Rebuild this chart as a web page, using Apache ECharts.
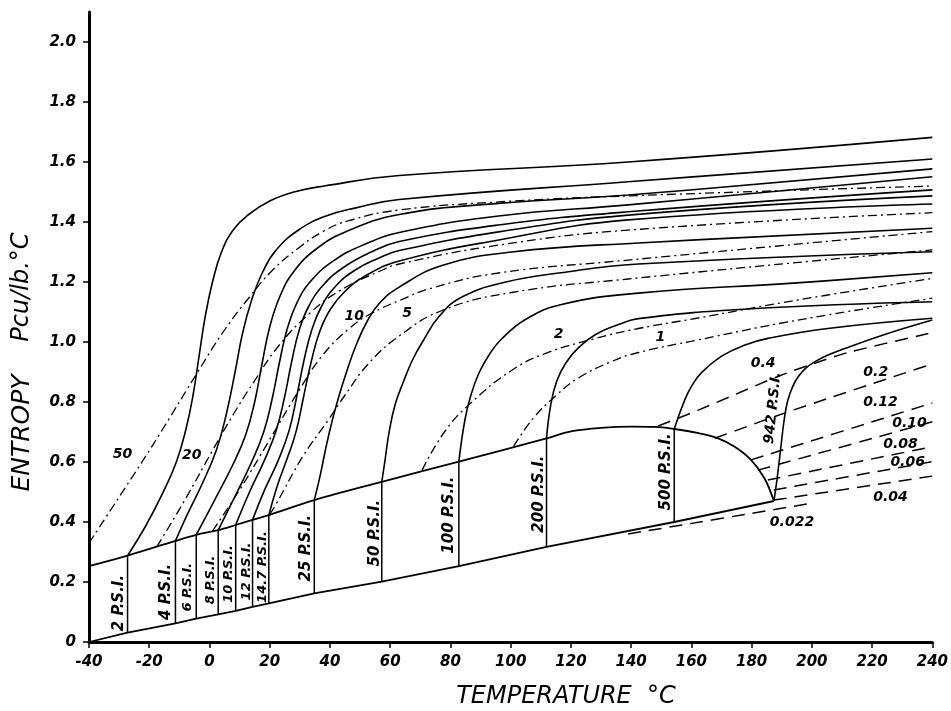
<!DOCTYPE html>
<html><head><meta charset="utf-8">
<script src="https://cdn.jsdelivr.net/npm/echarts@6/dist/echarts.min.js"></script>
<style>html,body{margin:0;padding:0;background:#fff}#c{width:951px;height:711px}</style>
</head><body><div id="c"></div>
<script>
// ---------- axis ticks ----------
const entropyTicks = [0,0.2,0.4,0.6,0.8,1.0,1.2,1.4,1.6,1.8,2.0];

// ---------- saturation boundaries ----------
const satLower = [[-40,0],[-27.2,0.031],[-11.3,0.062],[-4.4,0.078],[2.9,0.092],[8.7,0.104],[14.3,0.117],[19.7,0.129],[34.8,0.162],[57.2,0.201],[82.8,0.253],[111.9,0.317],[154.3,0.40],[187.4,0.47]];
const satUpper = [[-40,0.253],[-27.2,0.288],[-11.3,0.337],[-4.4,0.357],[2.9,0.373],[8.7,0.39],[14.3,0.407],[19.7,0.423],[34.8,0.473],[57.2,0.534],[82.8,0.601],[111.9,0.679],[120,0.702],[130,0.714],[140,0.718],[148,0.717],[154.3,0.71],[162,0.697],[168.9,0.679],[174.5,0.65],[179.8,0.607],[184.3,0.545],[187.4,0.47]];

// ---------- wet-region pressure lines ----------
const wetT    = [-27.2,-11.3,-4.4,2.9,8.7,14.3,19.7,34.8,57.2,82.8,111.9,154.3];
const wetLow  = [0.031,0.062,0.078,0.092,0.104,0.117,0.129,0.162,0.201,0.253,0.317,0.40];
const wetHigh = [0.288,0.337,0.357,0.373,0.39,0.407,0.423,0.473,0.534,0.601,0.679,0.71];
const pressureLabelsWide = ['2 P.S.I.','4 P.S.I.','25 P.S.I.','50 P.S.I.','100 P.S.I.','200 P.S.I.','500 P.S.I.'];
const pressureLabelsWideT = [-30.1,-14.5,32.2,55.0,79.5,109.3,151.7];
const pressureLabelsWideS = [0.13,0.167,0.313,0.363,0.423,0.493,0.567];
const pressureLabelsNarrow = ['6 P.S.I.','8 P.S.I.','10 P.S.I.','12 P.S.I.','14.7 P.S.I.'];
const pressureLabelsNarrowT = [-7.4,0.3,6.3,12.2,17.5];
const pressureLabelsNarrowS = [0.183,0.207,0.227,0.235,0.25];

// ---------- superheated isobars (solid) ----------
const isobar2 = [[-27.2,0.288],[-21,0.39],[-15.5,0.497],[-11,0.6],[-7.8,0.71],[-5.5,0.82],[-3.5,0.95],[-1.5,1.08],[1,1.2],[4,1.3],[8,1.375],[13,1.425],[20,1.47],[28,1.5],[38,1.52],[63,1.555],[139,1.60],[240,1.682]];
const isobar4 = [[-11.3,0.337],[-7.7,0.418],[-2.3,0.53],[2.3,0.64],[5.6,0.76],[8.5,0.9],[11,1.03],[14,1.14],[17.5,1.23],[22,1.305],[29.8,1.375],[38.7,1.42],[48.6,1.447],[63,1.475],[139,1.534],[240,1.61]];
const isobar6 = [[-4.4,0.357],[1.7,0.473],[7.7,0.59],[12,0.69],[15,0.8],[17.5,0.93],[20,1.05],[23.5,1.155],[28,1.235],[34.8,1.305],[44.7,1.365],[63,1.425],[96,1.462],[139,1.49],[240,1.577]];
const isobar8 = [[2.9,0.373],[8.7,0.49],[14,0.60],[18,0.70],[20.8,0.81],[23.2,0.93],[25.7,1.04],[29,1.13],[33.8,1.205],[41.4,1.272],[51.4,1.325],[63,1.365],[96,1.42],[139,1.457],[240,1.551]];
const isobar10 = [[8.7,0.39],[13.3,0.50],[18.3,0.607],[22.2,0.707],[24.9,0.815],[27.3,0.935],[29.8,1.04],[33,1.12],[37.8,1.19],[44.7,1.25],[53.7,1.30],[63,1.335],[96,1.39],[139,1.434],[240,1.507]];
const isobar12 = [[14.3,0.407],[18.3,0.507],[22.9,0.607],[26.5,0.707],[29,0.82],[31.3,0.935],[33.8,1.035],[37,1.115],[41.8,1.185],[48.4,1.24],[56.3,1.28],[63,1.305],[96,1.367],[139,1.423],[240,1.487]];
const isobar14_7 = [[19.7,0.423],[22.6,0.523],[26.2,0.623],[28.9,0.707],[31.3,0.82],[33.8,0.935],[36.6,1.035],[40.2,1.11],[45.1,1.17],[51.7,1.22],[63,1.27],[96,1.34],[139,1.407],[240,1.46]];
const isobar25 = [[34.8,0.473],[36.8,0.557],[38.7,0.65],[40.8,0.74],[43,0.82],[45.5,0.9],[48.7,0.99],[52.4,1.07],[56.5,1.13],[63,1.183],[77.2,1.255],[100.3,1.30],[142.4,1.33],[240,1.379]];
const isobar50 = [[57.2,0.534],[58.3,0.607],[59.6,0.697],[61.6,0.79],[64.3,0.865],[67.4,0.94],[71,1.005],[76.2,1.085],[83.8,1.15],[98.4,1.2],[116,1.23],[142.4,1.26],[240,1.301]];
const isobar100 = [[82.8,0.601],[84.8,0.74],[86.8,0.823],[89.4,0.895],[92.7,0.955],[96.5,1.005],[104.9,1.075],[116.9,1.125],[142.4,1.163],[195,1.197],[240,1.231]];
const isobar200 = [[111.9,0.679],[113.3,0.79],[115.3,0.87],[118.3,0.93],[122.6,0.982],[128.2,1.025],[135.8,1.058],[142.4,1.078],[178.8,1.11],[240,1.134]];
const isobar500 = [[154.3,0.71],[157.8,0.807],[160.3,0.857],[163.3,0.897],[169.9,0.952],[177.8,0.99],[185.4,1.012],[205.3,1.045],[240,1.079]];
const isobar942 = [[187.4,0.47],[188.4,0.54],[189.6,0.64],[190.8,0.74],[192,0.805],[193.7,0.853],[195.5,0.885],[198,0.913],[201.5,0.937],[205,0.955],[210,0.975],[224.2,1.025],[240,1.073]];

// ---------- constant volume lines (dash-dot) ----------
const vol50 = [[-40,0.33],[-22.1,0.605],[-15.5,0.71],[-3.9,0.9],[5,1.04],[13.3,1.15],[21,1.24],[29.8,1.315],[38,1.37],[46.4,1.405],[63,1.44],[96,1.467],[139,1.487],[240,1.52]];
const vol20 = [[-17.5,0.317],[-8.2,0.473],[1.1,0.64],[8,0.76],[14.4,0.862],[23.2,0.99],[33.2,1.095],[43.1,1.17],[56.3,1.235],[63,1.26],[96,1.323],[139,1.373],[240,1.431]];
const vol10 = [[1,0.37],[10,0.507],[19.9,0.673],[29.8,0.84],[37.5,0.955],[46.4,1.045],[53.7,1.095],[63,1.138],[73.9,1.18],[96,1.23],[139,1.273],[240,1.368]];
const vol5 = [[20,0.425],[22.3,0.463],[30.9,0.617],[39.8,0.745],[44.8,0.82],[53,0.93],[63,1.02],[77.2,1.105],[100.3,1.165],[139,1.21],[240,1.307]];
const vol2 = [[70.6,0.573],[78,0.7],[86.8,0.797],[100.3,0.905],[111.6,0.962],[128.2,1.012],[142.4,1.045],[162.2,1.08],[195.3,1.14],[240,1.212]];
const vol1 = [[101,0.653],[107.6,0.747],[114.9,0.82],[122.5,0.88],[133.5,0.935],[142.4,0.965],[162.2,1.007],[195.3,1.073],[240,1.146]];
// ---------- constant volume lines (dashed) ----------
const vol0_4 = [[149,0.72],[162.1,0.772],[174.5,0.825],[188.7,0.885],[199.7,0.925],[212,0.965],[240,1.031]];
const vol0_2 = [[167.8,0.679],[190.9,0.763],[240,0.927]];
const vol0_12 = [[179.8,0.607],[240,0.797]];
const vol0_10 = [[182.1,0.573],[240,0.734]];
const vol0_08 = [[185.4,0.54],[240,0.651]];
const vol0_06 = [[187.4,0.507],[240,0.601]];
const vol0_04 = [[187.4,0.473],[240,0.553]];
const vol0_022 = [[139,0.36],[200.3,0.463]];

const volLabels = ['50','20','10','5','2','1','0.4','0.2','0.12','0.10','0.08','0.06','0.04','0.022'];
const volLabelT = [-28.9,-5.9,48.1,65.6,115.9,149.7,183.8,221.2,222.8,232.4,229.4,231.8,226.1,193.4];
const volLabelS = [0.627,0.623,1.087,1.097,1.027,1.017,0.93,0.90,0.80,0.73,0.66,0.60,0.483,0.40];

// ---------- build ----------
const INK = '#000';
const solid = {color: INK, width: 1.6, type: 'solid'};
const dashDot = {color: INK, width: 1.3, type: [9, 4, 2, 4]};
const dashed = {color: INK, width: 1.5, type: [13, 8]};

function line(data, style, smooth) {
  return {type: 'line', data: data, symbol: 'none', showSymbol: false, silent: true,
    smooth: smooth === undefined ? 0.45 : smooth,
    lineStyle: style, animation: false, z: 3};
}
const series = [];
series.push(line(satLower, {color: INK, width: 1.8}, false));
series.push(line(satUpper, {color: INK, width: 1.8}, 0.35));
wetT.forEach((t, i) => series.push(line([[t, wetLow[i]], [t, wetHigh[i]]], {color: INK, width: 1.5}, false)));
[isobar2, isobar4, isobar6, isobar8, isobar10, isobar12, isobar14_7, isobar25, isobar50, isobar100, isobar200, isobar500, isobar942]
  .forEach(d => series.push(line(d, solid)));
[vol50, vol20, vol10, vol5, vol2, vol1].forEach(d => series.push(line(d, dashDot)));
[vol0_4, vol0_2, vol0_12, vol0_10, vol0_08, vol0_06, vol0_04, vol0_022].forEach(d => series.push(line(d, dashed, 0.3)));

const lblFont = {fontFamily: 'DejaVu Sans', fontStyle: 'italic', fontWeight: 'bold', color: '#000', opacity: 1,
  textBorderWidth: 0};
function labelSeries(names, ts, ss, extra) {
  return {
    type: 'scatter', symbolSize: 1, silent: true, animation: false, z: 5,
    itemStyle: {color: 'rgba(255,255,255,0)', opacity: 1},
    emphasis: {disabled: true},
    data: names.map((t, i) => ({name: t, value: [ts[i], ss[i]]})),
    label: Object.assign({show: true, formatter: '{b}', position: 'inside'}, lblFont, extra)
  };
}
series.push(labelSeries(pressureLabelsWide, pressureLabelsWideT, pressureLabelsWideS, {rotate: 90, fontSize: 15}));
series.push(labelSeries(pressureLabelsNarrow, pressureLabelsNarrowT, pressureLabelsNarrowS, {rotate: 90, fontSize: 13}));
series.push(labelSeries(['942 P.S.I.'], [187.1], [0.78], {rotate: 84, fontSize: 14}));
series.push(labelSeries(volLabels, volLabelT, volLabelS, {fontSize: 14}));

const chart = echarts.init(document.getElementById('c'), null, {renderer: 'canvas'});
chart.setOption({
  backgroundColor: '#fff',
  animation: false,
  grid: {left: 89, right: 16, top: 12, bottom: 69, containLabel: false},
  xAxis: {
    type: 'value', min: -40, max: 240, interval: 20,
    axisLine: {show: true, onZero: false, lineStyle: {color: INK, width: 3}},
    axisTick: {show: true, length: 6, lineStyle: {color: INK, width: 1.5}},
    axisLabel: {color: INK, fontSize: 15, fontStyle: 'italic', fontWeight: 'bold', fontFamily: 'DejaVu Sans', margin: 13},
    splitLine: {show: false}
  },
  yAxis: {
    type: 'value', min: 0, max: 2.1,
    axisLine: {show: true, onZero: false, lineStyle: {color: INK, width: 3}},
    axisTick: {show: true, length: 6, customValues: entropyTicks, lineStyle: {color: INK, width: 1.5}},
    axisLabel: {color: INK, fontSize: 15, fontStyle: 'italic', fontWeight: 'bold', fontFamily: 'DejaVu Sans', margin: 13,
      customValues: entropyTicks, formatter: v => v === 0 ? '0' : v.toFixed(1)},
    splitLine: {show: false}
  },
  graphic: [
    {type: 'text', x: 22, y: 433, rotation: Math.PI / 2,
      style: {text: 'ENTROPY', font: 'italic 25px "DejaVu Sans"', fill: INK, textAlign: 'center', textVerticalAlign: 'middle'}},
    {type: 'text', x: 22, y: 287, rotation: Math.PI / 2,
      style: {text: 'Pcu/lb.°C', font: 'italic 24px "DejaVu Sans"', fill: INK, textAlign: 'center', textVerticalAlign: 'middle'}},
    {type: 'text', x: 566, y: 697,
      style: {text: 'TEMPERATURE  °C', font: 'italic 24px "DejaVu Sans"', fill: INK, textAlign: 'center', textVerticalAlign: 'middle'}}
  ],
  series: series
});
</script></body></html>
